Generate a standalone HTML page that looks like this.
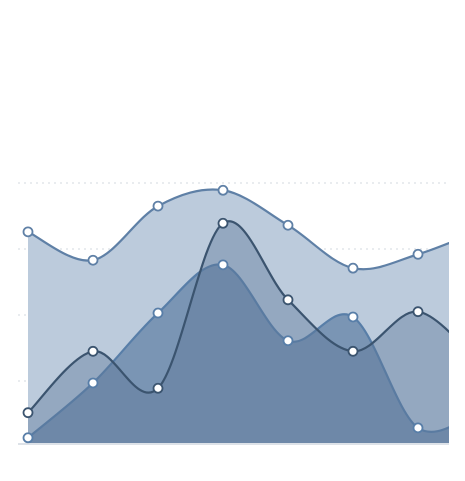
<!DOCTYPE html>
<html><head><meta charset="utf-8"><style>
html,body{margin:0;padding:0;background:#fff;width:465px;height:481px;overflow:hidden;font-family:"Liberation Sans",sans-serif}
</style></head><body>
<svg id="chart" width="465" height="481" xmlns="http://www.w3.org/2000/svg">
<defs><clipPath id="clip"><rect x="18" y="150" width="431" height="300"/></clipPath></defs>
<g id="grid"></g>
<line x1="18" y1="444" x2="449" y2="444" stroke="#dde2e8" stroke-width="2"/>
<g id="plot" clip-path="url(#clip)"></g>
<g id="points" clip-path="url(#clip)"></g>
</svg>
<script>
const categories = ["c1","c2","c3","c4","c5","c6","c7","c8"];
const seriesBack = [3.26, 2.83, 3.65, 3.89, 3.36, 2.71, 2.92, 3.3];
const seriesMiddle = [0.52, 1.45, 0.89, 3.39, 2.23, 1.45, 2.05, 1.2];
const seriesFront = [0.14, 0.97, 2.03, 2.76, 1.61, 1.97, 0.29, 0.6];
const gridValues = [1, 2, 3, 4];

const NS = "http://www.w3.org/2000/svg";
const x0 = 28, step = 65, yBase = 447, yUnit = 66, fillBottom = 443;
function xScale(i){ return x0 + i*step; }
function yScale(v){ return yBase - v*yUnit; }

const grid = document.getElementById('grid');
gridValues.forEach(g=>{
  const l = document.createElementNS(NS,'line');
  
  
  l.setAttribute('x1',18); l.setAttribute('x2',449);
  l.setAttribute('y1',yScale(g)); l.setAttribute('y2',yScale(g));
  l.setAttribute('stroke','#e2e6ea'); l.setAttribute('stroke-width','1.5');
  l.setAttribute('stroke-dasharray','2,4');
  grid.appendChild(l);
});

function curve(pts){
  let d = `M${pts[0][0]},${pts[0][1]}`;
  for(let i=0;i<pts.length-1;i++){
    const p0=pts[Math.max(i-1,0)], p1=pts[i], p2=pts[i+1], p3=pts[Math.min(i+2,pts.length-1)];
    const t=6;
    d+=` C${p1[0]+(p2[0]-p0[0])/t},${p1[1]+(p2[1]-p0[1])/t} ${p2[0]-(p3[0]-p1[0])/t},${p2[1]-(p3[1]-p1[1])/t} ${p2[0]},${p2[1]}`;
  }
  return d;
}

const plot = document.getElementById('plot');
const pointsLayer = document.getElementById('points');
function drawSeries(vals, fill, stroke, name){
  const pts = vals.map((v,i)=>[xScale(i), yScale(v)]);
  const c = curve(pts);
  const area = document.createElementNS(NS,'path');
  
  
  area.setAttribute('d', c + ` L${pts[pts.length-1][0]},${fillBottom} L${pts[0][0]},${fillBottom} Z`);
  area.setAttribute('fill', fill);
  plot.appendChild(area);
  const line = document.createElementNS(NS,'path');
  
  
  line.setAttribute('d', c);
  line.setAttribute('fill','none'); line.setAttribute('stroke',stroke); line.setAttribute('stroke-width','2.2');
  plot.appendChild(line);
  pts.forEach(p=>{
    const ci = document.createElementNS(NS,'circle');
    
    
    ci.setAttribute('cx',p[0]); ci.setAttribute('cy',p[1]); ci.setAttribute('r',4.5);
    ci.setAttribute('fill','#fff'); ci.setAttribute('stroke',stroke); ci.setAttribute('stroke-width','1.8');
    pointsLayer.appendChild(ci);
  });
}
drawSeries(seriesBack, '#bccbdc', '#5f80a6', 'series-back');
drawSeries(seriesFront, '#7a95b4', '#587ea8', 'series-front');
drawSeries(seriesMiddle, 'rgba(92,118,153,0.42)', '#3b546f', 'series-middle');
</script>
</body></html>
